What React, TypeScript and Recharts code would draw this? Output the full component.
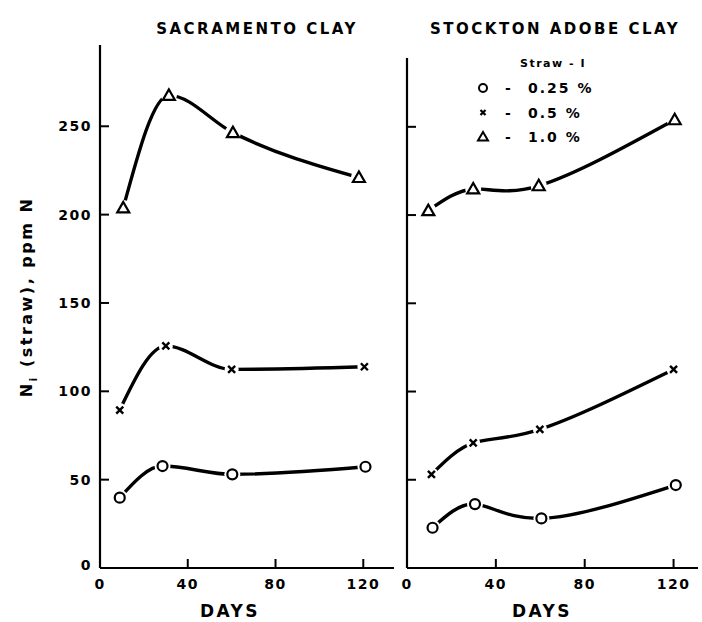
import React from "react";
import { LineChart, Line, XAxis, YAxis } from "recharts";

// (days, ppm N)
const L_DAYS_O = [9, 28.5, 60.3, 121];
const L_VALS_O = [39.8, 57.7, 53, 57.3];
const L_DAYS_X = [9, 30, 60, 120.5];
const L_VALS_X = [89.4, 125.7, 112.4, 113.9];
const L_DAYS_T = [10.6, 31.4, 60.6, 118];
const L_VALS_T = [203.8, 267.5, 246.4, 221];

const R_DAYS_O = [11.5, 30.6, 60.5, 121];
const R_VALS_O = [22.8, 36.2, 28.1, 47];
const R_DAYS_X = [11, 29.8, 59.8, 120];
const R_VALS_X = [53, 70.9, 78.6, 112.5];
const R_DAYS_T = [9.6, 29.8, 59.3, 120.5];
const R_VALS_T = [202.5, 214.8, 216.6, 254];

const X_TICKS = [0, 40, 80, 120];
const Y_TICKS = [0, 50, 100, 150, 200, 250];
const LEGEND_ROWS = [
  { mark: "o", label: "0.25 %" },
  { mark: "x", label: "0.5 %" },
  { mark: "t", label: "1.0 %" },
];

const FONT = "'DejaVu Sans', sans-serif";

const toRows = (days: number[], vals: number[]) => days.map((d, i) => ({ day: d, v: vals[i] }));

const CircleDot = (p: any) => (
  <g key={"o" + p.index}>
    <circle cx={p.cx} cy={p.cy} r={8} fill="#fff" />
    <circle cx={p.cx} cy={p.cy} r={5} fill="#fff" stroke="#000" strokeWidth={2.2} />
  </g>
);
const CrossDot = (p: any) => (
  <g key={"x" + p.index}>
    <circle cx={p.cx} cy={p.cy} r={7} fill="#fff" />
    <path d={`M${p.cx - 3.5},${p.cy - 3.5}L${p.cx + 3.5},${p.cy + 3.5}M${p.cx + 3.5},${p.cy - 3.5}L${p.cx - 3.5},${p.cy + 3.5}`}
      stroke="#000" strokeWidth={2.4} />
  </g>
);
const TriDot = (p: any) => (
  <g key={"t" + p.index}>
    <circle cx={p.cx} cy={p.cy} r={8} fill="#fff" />
    <path d={`M${p.cx},${p.cy - 6}L${p.cx - 6},${p.cy + 4.5}L${p.cx + 6},${p.cy + 4.5}Z`}
      fill="#fff" stroke="#000" strokeWidth={2.2} strokeLinejoin="miter" />
  </g>
);

const YTick = ({ x, y, payload, showText }: any) => {
  const ax = x + 8;
  return (
    <g>
      {payload.value !== 0 && <line x1={ax} x2={ax + 9} y1={y} y2={y} stroke="#000" strokeWidth={2} />}
      {showText && (
        <text x={x} y={y + (payload.value === 0 ? 2 : 5)} textAnchor="end" fontFamily={FONT} fontWeight="bold"
          fontSize={14} letterSpacing={1.5} fill="#000">{payload.value}</text>
      )}
    </g>
  );
};

const XTick = ({ x, y, payload }: any) => {
  const ay = y - 8;
  return (
    <g>
      {payload.value !== 0 && <line x1={x} x2={x} y1={ay} y2={ay - 9} stroke="#000" strokeWidth={2} />}
      <text x={x} y={ay + 21} textAnchor="middle" fontFamily={FONT} fontWeight="bold" fontSize={14}
        letterSpacing={1.5} fill="#000">{payload.value}</text>
    </g>
  );
};

function Panel({ series, width, left, top, domainX, domainY, showTickText }: any) {
  return (
    <LineChart width={width} height={622} margin={{ top, right: 4, left: 0, bottom: 0 }}>
      <XAxis dataKey="day" type="number" domain={domainX} ticks={X_TICKS} allowDataOverflow
        height={54} tickSize={0} tickMargin={8} tickLine={false} tick={<XTick />}
        axisLine={{ stroke: "#000", strokeWidth: 2.2 }} />
      <YAxis type="number" domain={domainY} ticks={Y_TICKS} allowDataOverflow width={left}
        tickSize={0} tickMargin={8} tickLine={false} tick={<YTick showText={showTickText} />}
        axisLine={{ stroke: "#000", strokeWidth: 2.2 }} />
      {series.map((s: any) => (
        <Line key={s.name} data={s.data} dataKey="v" name={s.name} type={s.curve} stroke="#000"
          strokeWidth={3.4} dot={s.dot} activeDot={false} isAnimationActive={false} />
      ))}
    </LineChart>
  );
}

export default function App() {
  const leftSeries = [
    { name: "0.25 %", data: toRows(L_DAYS_O, L_VALS_O), dot: CircleDot, curve: "monotone" },
    { name: "0.5 %", data: toRows(L_DAYS_X, L_VALS_X), dot: CrossDot, curve: "monotone" },
    { name: "1.0 %", data: toRows(L_DAYS_T, L_VALS_T), dot: TriDot, curve: "monotone" },
  ];
  const rightSeries = [
    { name: "0.25 %", data: toRows(R_DAYS_O, R_VALS_O), dot: CircleDot, curve: "natural" },
    { name: "0.5 %", data: toRows(R_DAYS_X, R_VALS_X), dot: CrossDot, curve: "natural" },
    { name: "1.0 %", data: toRows(R_DAYS_T, R_VALS_T), dot: TriDot, curve: "natural" },
  ];
  const txt = { fontFamily: FONT, fontWeight: "bold" as const, fill: "#000" };
  return (
    <div style={{ position: "absolute", left: 0, top: 0, width: 702, height: 622, background: "#fff" }}>
      <div style={{ position: "absolute", left: 0, top: 0 }}>
        <Panel series={leftSeries} width={398} left={100} top={45} domainX={[0, 134]} domainY={[0, 296]} showTickText />
      </div>
      <div style={{ position: "absolute", left: 400, top: 0 }}>
        <Panel series={rightSeries} width={302} left={7} top={58} domainX={[0, 131]} domainY={[0, 289]} showTickText={false} />
      </div>
      <svg width={702} height={622} style={{ position: "absolute", left: 0, top: 0, pointerEvents: "none" }}>
        <text x={257} y={34} textAnchor="middle" fontSize={15} letterSpacing={2.5} {...txt}>SACRAMENTO CLAY</text>
        <text x={555} y={34} textAnchor="middle" fontSize={15} letterSpacing={2.5} {...txt}>STOCKTON ADOBE CLAY</text>
        <text x={230} y={617} textAnchor="middle" fontSize={17} letterSpacing={2.5} {...txt}>DAYS</text>
        <text x={542} y={617} textAnchor="middle" fontSize={17} letterSpacing={2.5} {...txt}>DAYS</text>
        <text transform="translate(32,297) rotate(-90)" textAnchor="middle" fontSize={16} letterSpacing={2.5} {...txt}>
          N<tspan fontSize={11} dy={5}>i</tspan><tspan dy={-5}> (straw), ppm N</tspan>
        </text>
        {/* legend */}
        <text x={553} y={67} textAnchor="middle" fontSize={11} letterSpacing={1.5} {...txt}>Straw - I</text>
        {LEGEND_ROWS.map((r, i) => {
          const cy = 88 + i * 24.5;
          const cx = 483;
          return (
            <g key={r.mark}>
              {r.mark === "o" && <circle cx={cx} cy={cy} r={4} fill="#fff" stroke="#000" strokeWidth={2} />}
              {r.mark === "x" && <path d={`M${cx - 2.5},${cy - 2.5}L${cx + 2.5},${cy + 2.5}M${cx + 2.5},${cy - 2.5}L${cx - 2.5},${cy + 2.5}`} stroke="#000" strokeWidth={2.2} />}
              {r.mark === "t" && <path d={`M${cx},${cy - 5}L${cx - 5},${cy + 3.5}L${cx + 5},${cy + 3.5}Z`} fill="#fff" stroke="#000" strokeWidth={2} />}
              <text x={508} y={cy + 5} textAnchor="middle" fontSize={14} {...txt}>-</text>
              <text x={528} y={cy + 5} fontSize={14} letterSpacing={2} {...txt}>{r.label}</text>
            </g>
          );
        })}
      </svg>
    </div>
  );
}
